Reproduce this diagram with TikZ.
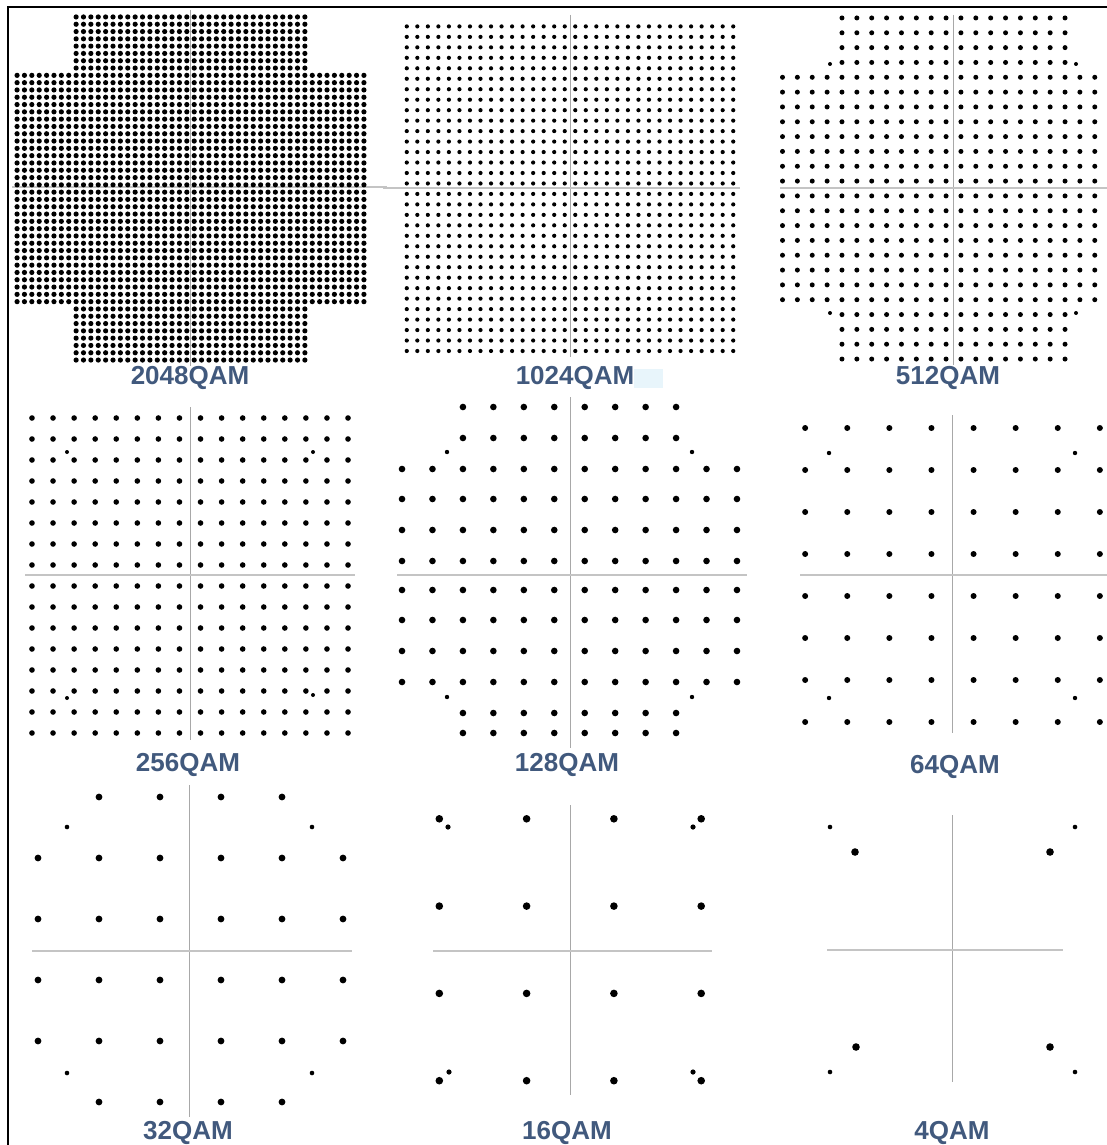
\documentclass[tikz,border=0pt]{standalone}
\usepackage{fontspec}
\setsansfont{Liberation Sans}
\definecolor{labelblue}{HTML}{41597D}
\definecolor{axisgray}{HTML}{A8A8A8}
\definecolor{axislight}{HTML}{C4C4C4}
\definecolor{paleblue}{HTML}{E8F5FB}
\newcommand\qamset[6]{\def\qcx{#1}\def\qcy{#2}\def\qpx{#3}\def\qpy{#4}\def\qmid{#5}\def\qrad{#6}}
\newcommand\qamblock[4]{\foreach \i in {#1,...,#2}{\foreach \j in {#3,...,#4}{\fill[dotc] ({\qcx+(\i-\qmid)*\qpx},{\qcy+(\j-\qmid)*\qpy}) circle (\qrad);}}}
\tikzset{
  dotc/.style={black},
  vaxis/.style={draw=axisgray,line width=1pt},
  haxis/.style={draw=axislight,line width=1.6pt},
  qamlabel/.style={text=labelblue,inner sep=0pt,font=\fontsize{26}{30}\selectfont\sffamily\bfseries},
  frameline/.style={draw=black,line width=2pt}
}
\begin{document}
\begin{tikzpicture}[x=1pt,y=-1pt]
\useasboundingbox (0,0) rectangle (1107,1145);
\fill[white] (0,0) rectangle (1107,1145);
\clip (0,0) rectangle (1107,1145);

% ---------- axes ----------
% 2048
\draw[vaxis] (190,10) -- (190,366);
\draw[haxis] (12,187) -- (387,187);
% 1024
\draw[vaxis] (570,15) -- (570,357);
\draw[haxis] (383,188) -- (740,188);
% 512
\draw[vaxis] (953,15) -- (953,365);
\draw[haxis] (780,188) -- (1107,188);
% 256
\draw[vaxis] (190,407) -- (190,740);
\draw[haxis] (25,575) -- (355,575);
% 128
\draw[vaxis] (570,397) -- (570,748);
\draw[haxis] (397,575) -- (747,575);
% 64
\draw[vaxis] (952,415) -- (952,733);
\draw[haxis] (800,575) -- (1107,575);
% 32
\draw[vaxis] (189,785) -- (189,1117);
\draw[haxis] (32,951) -- (352,951);
% 16
\draw[vaxis] (570,805) -- (570,1095);
\draw[haxis] (433,951) -- (712,951);
% 4
\draw[vaxis] (952,815) -- (952,1082);
\draw[haxis] (827,950) -- (1063,950);

% ---------- 2048QAM ----------
\qamset{190.5}{188.5}{7.38}{7.3}{23.5}{2.6pt}
\qamblock{0}{47}{8}{39}
\qamblock{8}{39}{0}{7}
\qamblock{8}{39}{40}{47}

% ---------- 1024QAM ----------
\qamset{570}{188.7}{10.53}{10.47}{15.5}{2.1pt}
\qamblock{0}{31}{0}{31}

% ---------- 512QAM ----------
\qamset{953.5}{188.5}{14.87}{14.83}{11.5}{2.5pt}
\qamblock{0}{23}{4}{19}
\qamblock{4}{19}{0}{3}
\qamblock{4}{19}{20}{23}
\foreach \p in {(830,64),(1076,64),(830,313),(1076,313)} \fill[dotc] \p circle (2pt);

% ---------- 256QAM ----------
\qamset{190}{575.5}{21.07}{21}{7.5}{2.8pt}
\qamblock{0}{15}{0}{15}
\foreach \p in {(67,452),(313,452),(67,698),(313,695)} \fill[dotc] \p circle (2pt);

% ---------- 128QAM ----------
\foreach \y in {407,438,713,733}{\foreach \i in {2,...,9}{\fill[dotc] ({569.5+(\i-5.5)*30.45},\y) circle (3.3pt);}}
\foreach \y in {469,499,530,561,590,620,651,682}{\foreach \i in {0,...,11}{\fill[dotc] ({569.5+(\i-5.5)*30.45},\y) circle (3.3pt);}}
\foreach \p in {(447,452),(692,452),(447,697),(692,697)} \fill[dotc] \p circle (2.2pt);

% ---------- 64QAM ----------
\qamset{952.5}{575}{42.1}{42}{3.5}{3pt}
\qamblock{0}{7}{0}{7}
\foreach \p in {(829,453),(1075,453),(829,698),(1075,698)} \fill[dotc] \p circle (2.2pt);

% ---------- 32QAM ----------
\qamset{190.5}{949.5}{61}{61}{2.5}{3.4pt}
\qamblock{1}{4}{0}{0}
\qamblock{0}{5}{1}{4}
\qamblock{1}{4}{5}{5}
\foreach \p in {(67,827),(312,827),(67,1073),(312,1073)} \fill[dotc] \p circle (2.3pt);

% ---------- 16QAM ----------
\qamset{570.25}{949.75}{87.3}{87.3}{1.5}{3.8pt}
\qamblock{0}{3}{0}{3}
\foreach \p in {(448,827),(693,827),(449,1072),(693,1072)} \fill[dotc] \p circle (2.6pt);

% ---------- 4QAM ----------
\foreach \p in {(855,852),(1050,852),(856,1047),(1050,1047)} \fill[dotc] \p circle (3.8pt);
\foreach \p in {(830,827),(1075,827),(830,1072),(1075,1072)} \fill[dotc] \p circle (2.3pt);

% ---------- labels ----------
\fill[paleblue] (634,369) rectangle (663,388);
\node[qamlabel] (l2048) at (190,378) {2048QAM};
\node[qamlabel] (l1024) at (575,378) {1024QAM};
\node[qamlabel] (l512)  at (948,378) {512QAM};
\node[qamlabel] (l256)  at (188,765) {256QAM};
\node[qamlabel] (l128)  at (567,765) {128QAM};
\node[qamlabel] (l64)   at (955,767) {64QAM};
\node[qamlabel] (l32)   at (188,1133) {32QAM};
\node[qamlabel] (l16)   at (567,1133) {16QAM};
\node[qamlabel] (l4)    at (952,1133) {4QAM};

% ---------- frame ----------
\draw[frameline] (8,1146) -- (8,7) -- (1108,7);
\end{tikzpicture}
\end{document}
